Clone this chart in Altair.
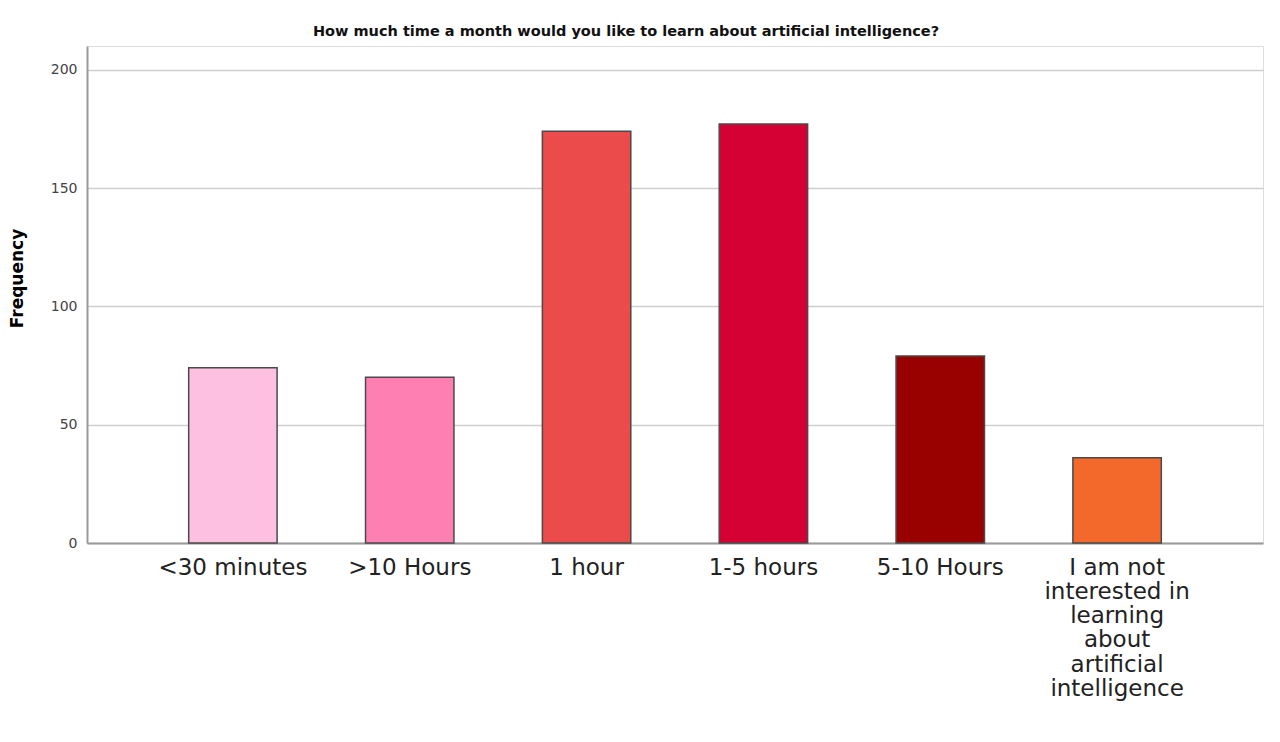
import altair as alt
import pandas as pd

categories = ["<30 minutes", ">10 Hours", "1 hour", "1-5 hours", "5-10 Hours",
              "I am not interested in learning about artificial intelligence"]
frequencies = [74, 70, 174, 177, 79, 36]
colors = ["#FEC0E0", "#FE80B2", "#EB4B4B", "#D50034", "#990000", "#F2692B"]
last_label_lines = ["I am not", "interested in", "learning", "about", "artificial", "intelligence"]
y_ticks = [0, 50, 100, 150, 200]
title_text = "How much time a month would you like to learn about artificial intelligence?"

df = pd.DataFrame({"category": categories, "frequency": frequencies})

label_expr = ("datum.label == '%s' ? [%s] : datum.label"
              % (categories[-1], ", ".join("'%s'" % s for s in last_label_lines)))

font = "DejaVu Sans"

chart = alt.Chart(df).mark_bar(stroke="#4a4a4a", strokeWidth=1.5).encode(
    x=alt.X("category:N", sort=categories,
            scale=alt.Scale(paddingInner=0.5, paddingOuter=0.575),
            axis=alt.Axis(title=None, labelAngle=0, labelFontSize=23, labelFont=font,
                          labelColor="#222", labelPadding=13, labelLimit=400,
                          labelLineHeight=24.3, labelBaseline="top", ticks=False,
                          domainColor="#9a9a9a", domainWidth=2, labelExpr=label_expr,
                          grid=False)),
    y=alt.Y("frequency:Q", scale=alt.Scale(domain=[0, 210], nice=False),
            axis=alt.Axis(title="Frequency", values=y_ticks, labelFontSize=14,
                          labelFont=font, labelColor="#444", labelPadding=10,
                          ticks=False, domainColor="#9a9a9a", domainWidth=2,
                          gridColor="#cfcfcf", gridWidth=1.5,
                          titleFont=font, titleFontSize=17, titleFontWeight="bold",
                          titleColor="#000", titleX=-70, titleY=232,
                          titleBaseline="middle", titleAngle=-90)),
    color=alt.Color("category:N", sort=categories,
                    scale=alt.Scale(domain=categories, range=colors), legend=None),
).properties(
    width=1176,
    height=497,
    title=alt.TitleParams(title_text, font=font, fontSize=14.5, fontWeight="bold",
                          color="#111", anchor="middle", dx=-49, offset=7),
    autosize=alt.AutoSizeParams(type="none"),
    padding={"left": 79, "top": 38, "right": 9, "bottom": 190},
).configure_view(stroke=None).configure(background="white")

chart.save("out.html", embed_options={"renderer": "svg", "actions": False})
